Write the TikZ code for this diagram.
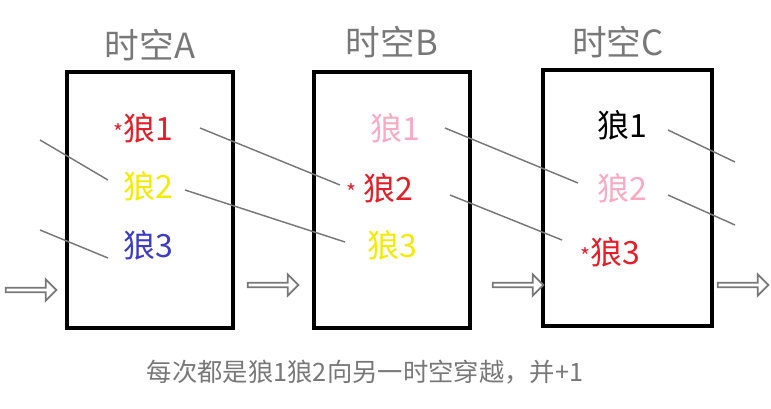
\documentclass[tikz,border=0pt]{standalone}
\usepackage{fontspec}
\setmainfont{Noto Sans CJK SC}
\usetikzlibrary{shapes.arrows}
\definecolor{wred}{RGB}{230,30,40}
\definecolor{wyel}{RGB}{245,235,0}
\definecolor{wblue}{RGB}{60,60,200}
\definecolor{wpink}{RGB}{250,170,195}
\definecolor{wgray}{RGB}{120,120,120}
\begin{document}
\begin{tikzpicture}[x=0.75pt,y=-0.75pt,
    space/.style = {draw, line width=2.8pt},
    title/.style = {font=\fontsize{26}{26}\selectfont, color=wgray},
    wolf/.style = {font=\fontsize{24}{24}\selectfont},
    link/.style = {color=wgray, line width=1.1pt},
    hollow/.style = {single arrow, draw=wgray, fill=white, line width=1.3pt,
                     minimum height=38pt, minimum width=16pt, single arrow head extend=2.5pt, inner sep=0pt}]
                \useasboundingbox (0,0) rectangle (771,408);
                % three spaces
                \draw[space] (67,72) rectangle (233,328);
                \draw[space] (314,72) rectangle (470,328);
                \draw[space] (543,70) rectangle (712,326);
                \node[title] (tA) at (150,45) {时空A};
                \node[title] (tB) at (392,42) {时空B};
                \node[title] (tC) at (618,42) {时空C};
                % wolves
                \node[wolf, wred]  (a1) at (143,128) {{\fontsize{16}{16}\selectfont*}狼1};
                \node[wolf, wyel]  (a2) at (148,186) {狼2};
                \node[wolf, wblue] (a3) at (148,245) {狼3};
                \node[wolf, wpink] (b1) at (395,128) {狼1};
                \node[wolf, wred]  (b2) at (380,188) {{\fontsize{16}{16}\selectfont*} 狼2};
                \node[wolf, wyel]  (b3) at (392,245) {狼3};
                \node[wolf]        (c1) at (622,125) {狼1};
                \node[wolf, wpink] (c2) at (622,188) {狼2};
                \node[wolf, wred]  (c3) at (610,252) {{\fontsize{16}{16}\selectfont*}狼3};
                % loose ends
                \coordinate (in1) at (40,140);
                \coordinate (in2) at (40,230);
                \coordinate (out1) at (735,162);
                \coordinate (out2) at (735,225);
                \draw[link] (in1) -- (108,180);
                \draw[link] (in2) -- (108,258);
                \draw[link] (200,128) -- (340,185);
                \draw[link] (185,190) -- (345,242);
                \draw[link] (445,128) -- (578,183);
                \draw[link] (450,195) -- (562,240);
                \draw[link] (668,130) -- (out1);
                \draw[link] (668,195) -- (out2);
                % arrows
                \node[hollow] (h1) at (30,290) {};
                \node[hollow] (h2) at (272,285) {};
                \node[hollow] (h3) at (517,285) {};
                \node[hollow] (h4) at (742,285) {};
                \node[color=wgray, font=\fontsize{19}{20}\selectfont] (cap) at (365,372) {每次都是狼1狼2向另一时空穿越，并+1};
            \end{tikzpicture}
\end{document}
